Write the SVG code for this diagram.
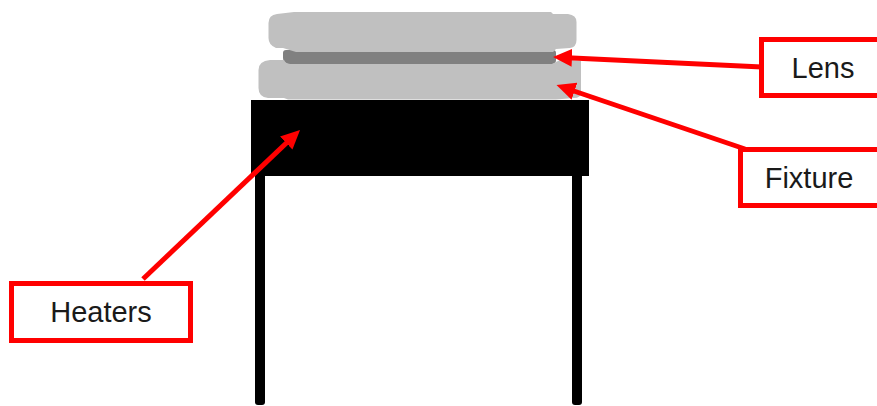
<svg xmlns="http://www.w3.org/2000/svg" width="877" height="406" viewBox="0 0 877 406">
<style>
.box{fill:#fff;stroke:#f00;stroke-width:5}
.lbl{font-family:"Liberation Sans",Arial,sans-serif;font-size:29px;fill:#1a1a1a;text-anchor:middle}
.conn{fill:none;stroke:#f00;stroke-width:5}
.light{fill:#c0c0c0}
.blk{fill:#000}
</style>
<defs>
<marker id="arrow" markerUnits="userSpaceOnUse" markerWidth="20" markerHeight="20" refX="10" refY="10" orient="auto">
<path d="M0 1 L19 10 L0 19 Z" fill="#f00"/>
</marker>
</defs>
<rect width="877" height="406" fill="#fff"/>
<g id="lens-core"><path d="M283 53 Q283 50 286 50 L553 50 Q556 50 556 53 L556 60 Q556 64 552 64 L290 64 Q283 64 283 58 Z" fill="#808080"/></g>
<g id="fixture-body"><path d="M270 60 L284 60 Q286 64 290 64 L552 64 L560 60 L572 60 L581 61 L581 92 Q581 98 574 98 L556 99.500 L288 99.500 L284 98 L268 98 Q258.500 97 258.500 88 L258.500 70 Q258.500 61 270 60 Z" class="light"/></g>
<g id="lens-body"><path d="M294 12 L551 12 L553 14 L568 14 Q576.500 15 576.500 22 L576.500 40 Q576.500 47 570 48 L556 49 L553 52 L296 52 L283 48 L276 48 Q268.500 45 268.500 38 L268.500 23 Q268.500 15 277 14 Z" class="light"/></g>
<g id="stand"><rect x="251" y="100" width="338" height="76" class="blk"/><rect x="255" y="170" width="10" height="235" rx="3" class="blk"/><rect x="572" y="170" width="10" height="235" rx="3" class="blk"/></g>
<g id="connectors">
<line x1="762" y1="67" x2="562" y2="57.400" class="conn" marker-end="url(#arrow)"/>
<line x1="745" y1="149" x2="565" y2="88" class="conn" marker-end="url(#arrow)"/>
<line x1="143" y1="279" x2="293.500" y2="136.200" class="conn" marker-end="url(#arrow)"/>
</g>
<g id="lens"><rect x="761.500" y="39.500" width="130" height="56" class="box"/><text x="823" y="78" class="lbl">Lens</text></g>
<g id="fixture"><rect x="740.500" y="149.500" width="150" height="56" class="box"/><text x="809" y="188" class="lbl">Fixture</text></g>
<g id="heaters"><rect x="11.500" y="283.500" width="179" height="57" class="box"/><text x="101" y="322" class="lbl">Heaters</text></g>
</svg>
